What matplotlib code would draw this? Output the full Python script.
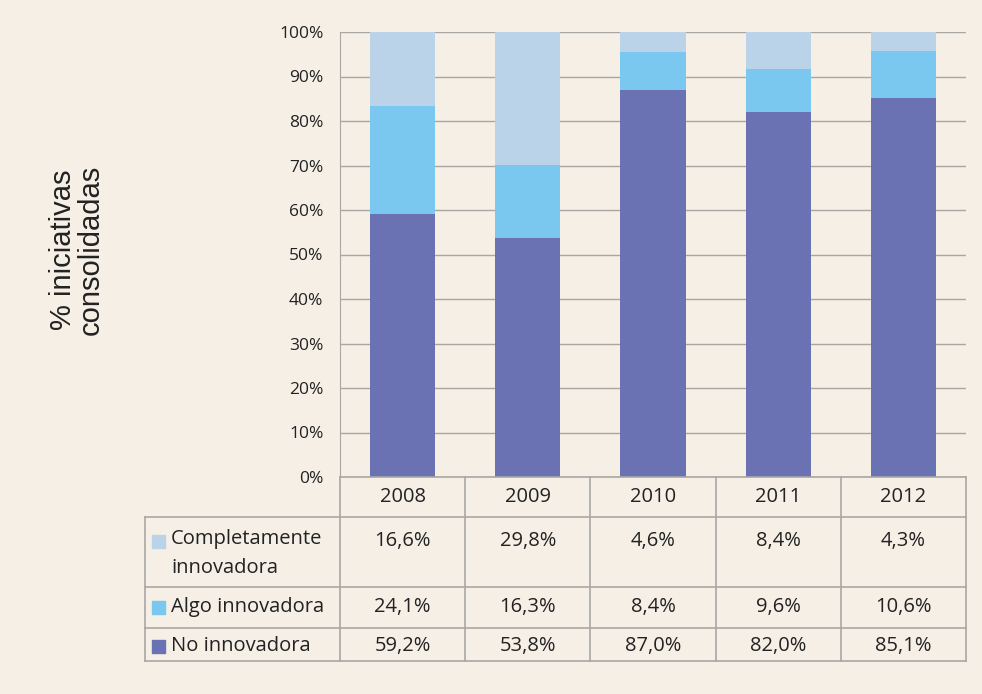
import matplotlib
matplotlib.use("Agg")
import numpy as np
from matplotlib import pyplot as plt
from matplotlib.patches import Rectangle

# Chart data
YEARS = ["2008", "2009", "2010", "2011", "2012"]
SERIES = ["No innovadora", "Algo innovadora", "Completamente\ninnovadora"]
NO_INNOV = [59.2, 53.8, 87.0, 82.0, 85.1]
ALGO_INNOV = [24.1, 16.3, 8.4, 9.6, 10.6]
COMPLETA = [16.6, 29.8, 4.6, 8.4, 4.3]
Y_TICKS = [0, 10, 20, 30, 40, 50, 60, 70, 80, 90, 100]

COLORS = ["#6a72b3", "#7ac8ef", "#bbd3e9"]
BG = "#f5efe6"
GRID = "#a9a7a4"
TXT = "#222222"

W, H = 982, 694
fig = plt.figure(figsize=(W / 100, H / 100), dpi=100, facecolor=BG)

# plot area in pixels
PX_L, PX_R, PX_T, PX_B = 340, 966, 32, 477
ax = fig.add_axes([PX_L / W, 1 - PX_B / H, (PX_R - PX_L) / W, (PX_B - PX_T) / H])
ax.set_facecolor(BG)

x = np.arange(len(YEARS))
bottom = np.zeros(len(YEARS))
for vals, col in zip([NO_INNOV, ALGO_INNOV, COMPLETA], COLORS):
    vals = np.array(vals)
    ax.bar(x, vals, 0.52, bottom=bottom, color=col, zorder=3)
    bottom += vals

ax.set_xlim(-0.5, len(YEARS) - 0.5)
ax.set_ylim(0, 100)
ax.set_yticks(Y_TICKS)
ax.set_yticklabels([f"{t}%" for t in Y_TICKS], fontsize=12.5,
                   family="Open Sans", color=TXT)
ax.tick_params(axis="y", length=0, pad=12)
ax.set_xticks([])
ax.grid(axis="y", color=GRID, lw=1, zorder=0)
for s in ["top", "right", "bottom"]:
    ax.spines[s].set_visible(False)
ax.spines["left"].set_color(GRID)

fig.text(77 / W, 1 - 250 / H, "% iniciativas\nconsolidadas", rotation=90,
         ha="center", va="center", fontsize=21, family="Liberation Sans",
         color=TXT, linespacing=1.0)

# data table drawn on a full-figure overlay in pixel units
ov = fig.add_axes([0, 0, 1, 1])
ov.set_xlim(0, W)
ov.set_ylim(H, 0)
ov.axis("off")
ov.patch.set_alpha(0)

col_w = (PX_R - PX_L) / len(YEARS)
col_edges = [PX_L + i * col_w for i in range(len(YEARS) + 1)]
TBL_L = 145
row_edges = [477, 517, 587, 628, 661]
lw = 1.2

# horizontal lines
ov.plot([PX_L, PX_R], [row_edges[0]] * 2, color=GRID, lw=lw)
for yy in row_edges[1:]:
    ov.plot([TBL_L, PX_R], [yy, yy], color=GRID, lw=lw)
# vertical lines
ov.plot([TBL_L, TBL_L], [row_edges[1], row_edges[-1]], color=GRID, lw=lw)
for xx in col_edges:
    ov.plot([xx, xx], [row_edges[0], row_edges[-1]], color=GRID, lw=lw)

tfont = dict(family="Open Sans", fontsize=14.5, color=TXT)
for i, yr in enumerate(YEARS):
    cx = (col_edges[i] + col_edges[i + 1]) / 2
    ov.text(cx, (row_edges[0] + row_edges[1]) / 2, yr, ha="center", va="center", **tfont)

fmt = lambda v: f"{v:.1f}%".replace(".", ",")
rows = [(SERIES[2], COMPLETA, COLORS[2]),
        (SERIES[1], ALGO_INNOV, COLORS[1]),
        (SERIES[0], NO_INNOV, COLORS[0])]
text_y = [541, 607, 646]
for r, (name, vals, col) in enumerate(rows):
    ty = text_y[r]
    ov.add_patch(Rectangle((152, ty - 6), 13, 13, color=col))
    if "\n" in name:
        ov.text(171, ty - 12, name, ha="left", va="top", linespacing=1.6, **tfont)
    else:
        ov.text(171, ty, name, ha="left", va="center", **tfont)
    for i, v in enumerate(vals):
        cx = (col_edges[i] + col_edges[i + 1]) / 2
        ov.text(cx, ty, fmt(v), ha="center", va="center", **tfont)

fig.savefig("out.png", dpi=100, facecolor=BG)
